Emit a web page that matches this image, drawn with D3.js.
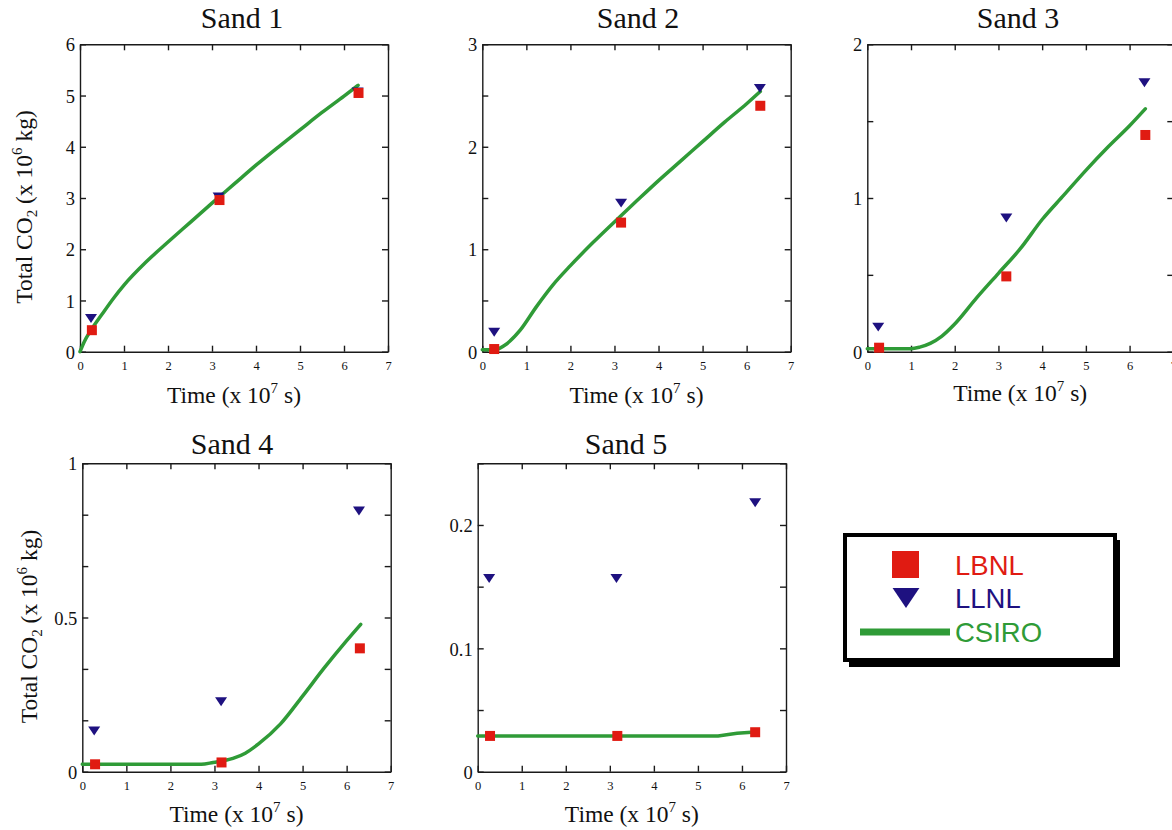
<!DOCTYPE html>
<html>
<head>
<meta charset="utf-8">
<script src="https://cdn.jsdelivr.net/npm/d3@7"></script>
<style>
  body { margin: 0; background: #fff; }
  svg { display: block; font-family: "Liberation Serif", "Times New Roman", serif; }
  .tick line, .domain { stroke: #1a1a1a; stroke-width: 1.4; }
</style>
</head>
<body>
<svg id="chart" width="1172" height="830"></svg>
<script>
// data (time in 1e7 s, mass in 1e6 kg)
const sandTitles = ['Sand 1', 'Sand 2', 'Sand 3', 'Sand 4', 'Sand 5'];
const xTickLabels = [0, 1, 2, 3, 4, 5, 6, 7];

const lbnlData = [
  [[0.27, 0.42], [3.17, 2.96], [6.33, 5.05]],
  [[0.27, 0.026], [3.15, 1.26], [6.31, 2.40]],
  [[0.27, 0.026], [3.18, 0.49], [6.36, 1.41]],
  [[0.29, 0.024], [3.16, 0.030], [6.30, 0.40]],
  [[0.28, 0.029], [3.17, 0.029], [6.30, 0.032]]
];
const llnlData = [
  [[0.25, 0.65], [3.15, 3.02], [6.31, 5.07]],
  [[0.27, 0.19], [3.15, 1.45], [6.30, 2.57]],
  [[0.25, 0.16], [3.18, 0.87], [6.34, 1.75]],
  [[0.27, 0.132], [3.15, 0.227], [6.28, 0.845]],
  [[0.26, 0.1566], [3.15, 0.1566], [6.30, 0.218]]
];
const csiroData = [
  [[0, 0], [0.1, 0.2], [0.25, 0.42], [0.5, 0.73], [0.75, 1.03], [1, 1.3], [1.5, 1.75], [2, 2.14], [2.5, 2.52],
   [3, 2.9], [3.5, 3.27], [4, 3.64], [4.5, 3.99], [5, 4.33], [5.5, 4.67], [6, 4.99], [6.32, 5.2]],
  [[0, 0.02], [0.3, 0.02], [0.5, 0.06], [0.86, 0.21], [1.23, 0.44], [1.6, 0.65], [2, 0.84], [2.5, 1.06],
   [3.13, 1.32], [3.5, 1.47], [4, 1.67], [4.5, 1.86], [5, 2.05], [5.5, 2.24], [6, 2.42], [6.31, 2.54]],
  [[0, 0.02], [1, 0.02], [1.2, 0.03], [1.44, 0.054], [1.7, 0.1], [2, 0.18], [2.5, 0.35], [3, 0.51],
   [3.5, 0.67], [4, 0.86], [4.5, 1.02], [5, 1.18], [5.5, 1.33], [6, 1.47], [6.36, 1.58]],
  [[0, 0.024], [2.7, 0.024], [2.97, 0.03], [3.42, 0.043], [3.7, 0.06], [4, 0.09], [4.5, 0.155],
   [5, 0.245], [5.5, 0.338], [6, 0.425], [6.32, 0.478]],
  [[0, 0.029], [5.46, 0.029], [5.69, 0.0302], [5.89, 0.0312], [6.3, 0.0322]]
];
const yMax = [6, 3, 2, 1, 0.25];
const yTicks = [
  [0, 1, 2, 3, 4, 5, 6],
  [0, 0.5, 1, 1.5, 2, 2.5, 3],
  [0, 0.5, 1, 1.5, 2],
  [0, 1 / 6, 2 / 6, 0.5, 4 / 6, 5 / 6, 1],
  [0, 0.05, 0.1, 0.15, 0.2, 0.25]
];
const yTickLabels = [
  [0, 1, 2, 3, 4, 5, 6],
  [0, 1, 2, 3],
  [0, 1, 2],
  [0, 0.5, 1],
  [0, 0.1, 0.2]
];
const legendNames = ['LBNL', 'LLNL', 'CSIRO'];

// layout
const colors = { LBNL: '#e01b12', LLNL: '#1e1180', CSIRO: '#2f9b37' };
const panels = [
  { left: 80, right: 388, top: 44.3, bottom: 351.7, titleX: 242, titleY: 28, xLabelY: 403, yLabelX: 32 },
  { left: 482.3, right: 790.7, top: 44.3, bottom: 351.7, titleX: 638, titleY: 28, xLabelY: 403 },
  { left: 867.3, right: 1173.3, top: 44.3, bottom: 351.7, titleX: 1018, titleY: 28, xLabelY: 401 },
  { left: 82.3, right: 390.7, top: 463.3, bottom: 771.7, titleX: 232, titleY: 454, xLabelY: 822, yLabelX: 37 },
  { left: 477.7, right: 786, top: 463.3, bottom: 771.7, titleX: 626, titleY: 454, xLabelY: 822 }
];

const svg = d3.select('#chart');

// flattened down-pointing triangle
const triDown = {
  draw: function(ctx, size) {
    const w = Math.sqrt(size) * 0.75, h = Math.sqrt(size) * 0.56;
    ctx.moveTo(-w, -h);
    ctx.lineTo(w, -h);
    ctx.lineTo(0, h);
    ctx.closePath();
  }
};

const fmt = function(v) { return String(+v.toFixed(2)); };

function styleAxis(a, size) {
  a.attr('font-family', null).attr('font-size', null);
  a.selectAll('text').attr('font-size', size).attr('fill', '#111');
}

panels.forEach(function(p, i) {
  const x = d3.scaleLinear().domain([0, 7]).range([p.left, p.right]);
  const y = d3.scaleLinear().domain([0, yMax[i]]).range([p.bottom, p.top]);
  const g = svg.append('g').attr('class', 'panel');
  const labels = yTickLabels[i];
  const isLabel = function(v) { return labels.some(function(l) { return Math.abs(l - v) < 1e-9; }); };

  g.append('g')
    .attr('transform', 'translate(0,' + p.bottom + ')')
    .call(d3.axisBottom(x).tickValues(xTickLabels).tickSizeInner(-6).tickSizeOuter(0).tickPadding(9)
      .tickFormat(d3.format('d')))
    .call(styleAxis, 12.5);

  g.append('g')
    .attr('transform', 'translate(0,' + p.top + ')')
    .call(d3.axisTop(x).tickValues(xTickLabels).tickSizeInner(-6).tickSizeOuter(0).tickFormat(''));

  g.append('g')
    .attr('transform', 'translate(' + p.left + ',0)')
    .call(d3.axisLeft(y).tickValues(yTicks[i]).tickSizeInner(-6).tickSizeOuter(0).tickPadding(5)
      .tickFormat(function(v) { return isLabel(v) ? fmt(v) : ''; }))
    .call(styleAxis, 18.5)
    .call(function(a) { a.selectAll('text').attr('dy', '0.36em'); });

  g.append('g')
    .attr('transform', 'translate(' + p.right + ',0)')
    .call(d3.axisRight(y).tickValues(yTicks[i]).tickSizeInner(-6).tickSizeOuter(0).tickFormat(''));

  g.selectAll('.domain').attr('stroke-width', 1.5);

  // CSIRO line
  const line = d3.line()
    .x(function(d) { return x(d[0]); })
    .y(function(d) { return y(d[1]); })
    .curve(i === 4 ? d3.curveLinear : d3.curveMonotoneX);
  g.append('path')
    .datum(csiroData[i])
    .attr('d', line)
    .attr('fill', 'none')
    .attr('stroke', colors.CSIRO)
    .attr('stroke-width', 3.5)
    .attr('stroke-linecap', 'round');

  // LLNL triangles
  g.selectAll('.llnl')
    .data(llnlData[i])
    .enter()
    .append('path')
      .attr('class', 'llnl')
      .attr('d', d3.symbol().type(triDown).size(64))
      .attr('transform', function(d) { return 'translate(' + x(d[0]) + ',' + y(d[1]) + ')'; })
      .attr('fill', colors.LLNL);

  // LBNL squares
  g.selectAll('.lbnl')
    .data(lbnlData[i])
    .enter()
    .append('rect')
      .attr('class', 'lbnl')
      .attr('x', function(d) { return x(d[0]) - 5; })
      .attr('y', function(d) { return y(d[1]) - 5; })
      .attr('width', 10)
      .attr('height', 10)
      .attr('fill', colors.LBNL);

  // titles
  g.append('text')
    .attr('x', p.titleX)
    .attr('y', p.titleY)
    .attr('text-anchor', 'middle')
    .attr('font-size', 30)
    .attr('fill', '#111')
    .text(sandTitles[i]);

  const xl = g.append('text')
    .attr('x', (p.left + Math.min(p.right, 1173)) / 2)
    .attr('y', p.xLabelY)
    .attr('text-anchor', 'middle')
    .attr('font-size', 23.5)
    .attr('fill', '#111');
  xl.append('tspan').text('Time (x 10');
  xl.append('tspan').attr('dy', -10).attr('font-size', 15).text('7');
  xl.append('tspan').attr('dy', 10).text(' s)');

  if (p.yLabelX) {
    const yl = g.append('text')
      .attr('transform', 'translate(' + p.yLabelX + ',' + ((p.top + p.bottom) / 2 + 9) + ') rotate(-90)')
      .attr('text-anchor', 'middle')
      .attr('font-size', 23.5)
      .attr('fill', '#111');
    yl.append('tspan').text('Total CO');
    yl.append('tspan').attr('dy', 5).attr('font-size', 15).text('2');
    yl.append('tspan').attr('dy', -5).text(' (x 10');
    yl.append('tspan').attr('dy', -10).attr('font-size', 15).text('6');
    yl.append('tspan').attr('dy', 10).text(' kg)');
  }
});

// legend box
const lg = svg.append('g').attr('font-family', '"Liberation Sans", Arial, sans-serif');
lg.append('rect').attr('x', 849).attr('y', 540).attr('width', 271).attr('height', 127).attr('fill', '#000');
lg.append('rect').attr('x', 845).attr('y', 535).attr('width', 270).attr('height', 125)
  .attr('fill', '#fff').attr('stroke', '#000').attr('stroke-width', 4);

const rowY = d3.scaleOrdinal().domain(legendNames).range([565, 598, 632]);
lg.append('rect').attr('x', 892).attr('y', rowY('LBNL') - 14).attr('width', 27).attr('height', 27).attr('fill', colors.LBNL);
lg.append('path')
  .attr('d', d3.symbol().type(triDown).size(320))
  .attr('transform', 'translate(906,' + rowY('LLNL') + ')')
  .attr('fill', colors.LLNL);
lg.append('line').attr('x1', 860).attr('x2', 950).attr('y1', rowY('CSIRO')).attr('y2', rowY('CSIRO'))
  .attr('stroke', colors.CSIRO).attr('stroke-width', 7);

lg.selectAll('.leg-text')
  .data(legendNames)
  .enter()
  .append('text')
    .attr('class', 'leg-text')
    .attr('x', 955)
    .attr('y', function(d) { return rowY(d) + 10; })
    .attr('font-size', 27.5)
    .attr('fill', function(d) { return colors[d]; })
    .text(function(d) { return d; });
</script>
</body>
</html>
